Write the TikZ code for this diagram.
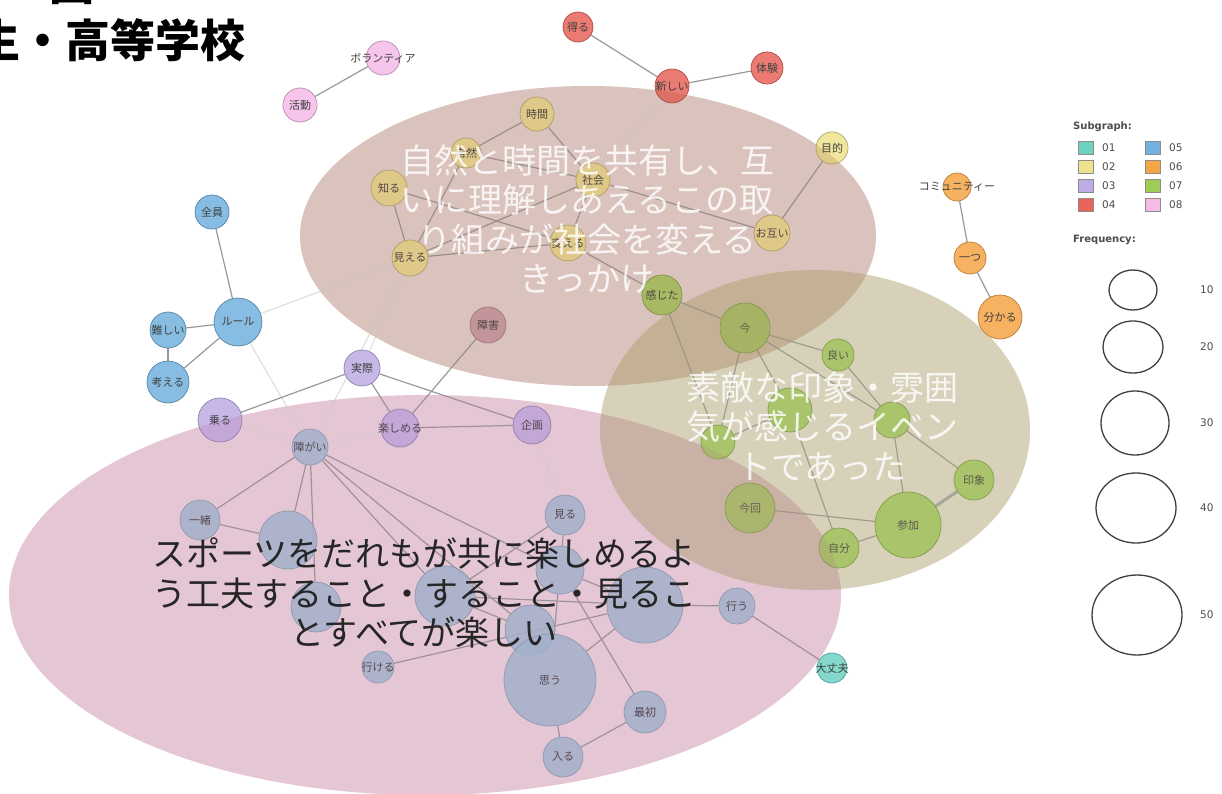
\documentclass[tikz,border=0pt]{standalone}
\usepackage{fontspec}
\newfontfamily\jp{Noto Sans CJK JP}
\newfontfamily\lgf{DejaVu Sans}
\usetikzlibrary{shapes.geometric}
\pgfdeclarelayer{paper}
\pgfdeclarelayer{ell}
\pgfdeclarelayer{edges}
\pgfdeclarelayer{veil}
\pgfdeclarelayer{fg}
\pgfsetlayers{paper,ell,edges,main,veil,fg}
\definecolor{c01}{RGB}{110,210,195}
\definecolor{c02}{RGB}{238,226,140}
\definecolor{c03}{RGB}{190,172,228}
\definecolor{c04}{RGB}{232,100,90}
\definecolor{c05}{RGB}{115,178,222}
\definecolor{c06}{RGB}{245,165,70}
\definecolor{c07}{RGB}{158,205,85}
\definecolor{c08}{RGB}{246,188,232}
\definecolor{cgr}{RGB}{158,190,212}
\definecolor{cmv}{RGB}{200,150,165}
\definecolor{brE}{RGB}{160,100,80}
\definecolor{pkE}{RGB}{190,110,150}
\definecolor{olE}{RGB}{175,165,115}
\newcommand\lbl[1]{\makebox[0pt]{#1}}
\begin{document}
\begin{tikzpicture}[x=1pt,y=-1pt,
  nd/.style={circle, inner sep=0pt, fill opacity=0.85, text opacity=1, line width=0.7pt,
    font=\jp\fontsize{11}{11}\selectfont, text=black!75},
  s01/.style={nd, fill=c01, draw=c01!75!black},
  s02/.style={nd, fill=c02, draw=c02!75!black},
  s03/.style={nd, fill=c03, draw=c03!75!black},
  s04/.style={nd, fill=c04, draw=c04!75!black},
  s05/.style={nd, fill=c05, draw=c05!75!black},
  s06/.style={nd, fill=c06, draw=c06!75!black},
  s07/.style={nd, fill=c07, draw=c07!75!black},
  s08/.style={nd, fill=c08, draw=c08!75!black},
  sgr/.style={nd, fill=cgr, draw=cgr!85!black},
  smv/.style={nd, fill=cmv, draw=cmv!80!black},
  lnk/.style={draw=black!40, line width=1.2pt},
  flnk/.style={draw=black!14, line width=1pt},
  thk/.style={draw=black!35, line width=3pt},
  etext/.style={align=center, inner sep=0pt, font=\jp\fontsize{34}{39.5}\selectfont},
  sq/.style={rectangle, minimum width=15pt, minimum height=13pt, inner sep=0pt, draw=black!45, line width=0.6pt},
  lgt/.style={anchor=west, inner sep=0pt, font=\lgf\fontsize{10.5}{10.5}\selectfont, text=black!70},
  fc/.style={ellipse, inner sep=0pt, draw=black!75, line width=1.3pt},
]
\useasboundingbox (0,0) rectangle (1222,794);
\begin{pgfonlayer}{paper}
\fill[white] (0,0) rectangle (1222,794);
\end{pgfonlayer}

% title fragments
\node[anchor=east, inner sep=0pt, font=\jp\bfseries\fontsize{45}{45}\selectfont] (title) at (246,40) {生・高等学校};
\node[inner sep=0pt, font=\jp\bfseries\fontsize{45}{45}\selectfont] (titletop) at (72,-16) {図};

% big ellipses (base and veil over the network)
\begin{pgfonlayer}{ell}
\fill[brE, fill opacity=0.24] (588,236) ellipse [x radius=288pt, y radius=150pt];
\fill[pkE, fill opacity=0.27] (425,595) ellipse [x radius=416pt, y radius=200pt];
\fill[olE, fill opacity=0.33] (815,430) ellipse [x radius=215pt, y radius=160pt];
\end{pgfonlayer}
\begin{pgfonlayer}{veil}
\fill[brE, fill opacity=0.18] (588,236) ellipse [x radius=288pt, y radius=150pt];
\fill[pkE, fill opacity=0.16] (425,595) ellipse [x radius=416pt, y radius=200pt];
\fill[olE, fill opacity=0.25] (815,430) ellipse [x radius=215pt, y radius=160pt];
\end{pgfonlayer}

% nodes: subgraph 08
\node[s08, minimum size=34pt] (vol) at (383,58) {\lbl{ボランティア}};
\node[s08, minimum size=34pt] (act) at (300,105) {\lbl{活動}};
% 04
\node[s04, minimum size=30pt] (eru) at (578,27) {\lbl{得る}};
\node[s04, minimum size=34pt] (atar) at (672,86) {\lbl{新しい}};
\node[s04, minimum size=32pt] (tai) at (767,68) {\lbl{体験}};
% 02
\node[s02, minimum size=34pt] (jikan) at (537,114) {\lbl{時間}};
\node[s02, minimum size=30pt] (shizen) at (466,153) {\lbl{自然}};
\node[s02, minimum size=34pt] (shakai) at (593,180) {\lbl{社会}};
\node[s02, minimum size=36pt] (shiru) at (389,188) {\lbl{知る}};
\node[s02, minimum size=36pt] (mieru) at (410,258) {\lbl{見える}};
\node[s02, minimum size=36pt] (kaeru) at (568,243) {\lbl{変える}};
\node[s02, minimum size=36pt] (otagai) at (772,233) {\lbl{お互い}};
\node[s02, minimum size=32pt] (mokuteki) at (832,148) {\lbl{目的}};
\node[smv, minimum size=36pt] (shogai) at (488,325) {\lbl{障害}};
% 03
\node[s03, minimum size=36pt] (jissai) at (362,368) {\lbl{実際}};
\node[s03, minimum size=44pt] (noru) at (220,420) {\lbl{乗る}};
\node[s03, minimum size=38pt] (tanoshimeru) at (400,428) {\lbl{楽しめる}};
\node[s03, minimum size=38pt] (kikaku) at (532,425) {\lbl{企画}};
% 05
\node[s05, minimum size=34pt] (zenin) at (212,212) {\lbl{全員}};
\node[s05, minimum size=48pt] (rule) at (238,322) {\lbl{ルール}};
\node[s05, minimum size=36pt] (muzu) at (168,330) {\lbl{難しい}};
\node[s05, minimum size=42pt] (kangaeru) at (168,382) {\lbl{考える}};
% gray
\node[sgr, minimum size=36pt] (hub) at (310,447) {\lbl{障がい}};
\node[sgr, minimum size=40pt] (issho) at (200,520) {\lbl{一緒}};
\node[sgr, minimum size=58pt] (gA) at (288,540) {};
\node[sgr, minimum size=50pt] (gB) at (316,607) {};
\node[sgr, minimum size=60pt] (gC) at (445,596) {};
\node[sgr, minimum size=40pt] (miru) at (565,515) {\lbl{見る}};
\node[sgr, minimum size=48pt] (gD) at (560,570) {};
\node[sgr, minimum size=76pt] (gE) at (645,605) {};
\node[sgr, minimum size=50pt] (gF) at (530,630) {};
\node[sgr, minimum size=92pt] (omou) at (550,680) {\lbl{思う}};
\node[sgr, minimum size=42pt] (saisho) at (645,712) {\lbl{最初}};
\node[sgr, minimum size=40pt] (hairu) at (563,757) {\lbl{入る}};
\node[sgr, minimum size=36pt] (okonau) at (737,606) {\lbl{行う}};
\node[sgr, minimum size=32pt] (ikeru) at (378,667) {\lbl{行ける}};
\node[s01, minimum size=30pt] (daijobu) at (832,668) {\lbl{大丈夫}};
% 07
\node[s07, minimum size=40pt] (kanjita) at (662,295) {\lbl{感じた}};
\node[s07, minimum size=50pt] (ima) at (745,328) {\lbl{今}};
\node[s07, minimum size=32pt] (yoi) at (838,355) {\lbl{良い}};
\node[s07, minimum size=44pt] (gG) at (790,410) {};
\node[s07, minimum size=34pt] (gH) at (718,442) {};
\node[s07, minimum size=36pt] (ibento) at (892,420) {};
\node[s07, minimum size=40pt] (insho) at (974,480) {\lbl{印象}};
\node[s07, minimum size=66pt] (sanka) at (908,525) {\lbl{参加}};
\node[s07, minimum size=40pt] (jibun) at (839,548) {\lbl{自分}};
\node[s07, minimum size=50pt] (konkai) at (750,508) {\lbl{今回}};
% 06
\node[s06, minimum size=28pt] (comm) at (957,187) {\lbl{コミュニティー}};
\node[s06, minimum size=32pt] (hitotsu) at (970,258) {\lbl{一つ}};
\node[s06, minimum size=44pt] (wakaru) at (1000,317) {\lbl{分かる}};

% edges
\begin{pgfonlayer}{edges}
\draw[lnk] (vol) -- (act);
\draw[lnk] (eru) -- (atar);
\draw[lnk] (atar) -- (tai);
\draw[flnk] (atar) -- (shakai);
\draw[lnk] (jikan) -- (shizen);
\draw[lnk] (jikan) -- (shakai);
\draw[lnk] (shizen) -- (shakai);
\draw[lnk] (shizen) -- (mieru);
\draw[lnk] (shiru) -- (mieru);
\draw[lnk] (shiru) -- (kaeru);
\draw[lnk] (mieru) -- (kaeru);
\draw[lnk] (mieru) -- (shakai);
\draw[lnk] (shakai) -- (kaeru);
\draw[lnk] (shakai) -- (otagai);
\draw[lnk] (otagai) -- (mokuteki);
\draw[lnk] (kaeru) -- (kanjita);
\draw[flnk] (mieru) -- (rule);
\draw[flnk] (mieru) -- (jissai);
\draw[flnk] (mieru) -- (hub);
\draw[lnk] (shogai) -- (tanoshimeru);
\draw[lnk] (zenin) -- (rule);
\draw[lnk] (muzu) -- (rule);
\draw[lnk] (muzu) -- (kangaeru);
\draw[lnk] (rule) -- (kangaeru);
\draw[flnk] (rule) -- (hub);
\draw[lnk] (jissai) -- (noru);
\draw[lnk] (jissai) -- (tanoshimeru);
\draw[lnk] (jissai) -- (kikaku);
\draw[lnk] (tanoshimeru) -- (kikaku);
\draw[flnk] (hub) -- (noru);
\draw[flnk] (hub) -- (tanoshimeru);
\draw[lnk] (hub) -- (issho);
\draw[lnk] (hub) -- (gA);
\draw[lnk] (hub) -- (gB);
\draw[lnk] (hub) -- (gC);
\draw[lnk] (hub) -- (gD);
\draw[lnk] (hub) -- (gF);
\draw[lnk] (issho) -- (gA);
\draw[lnk] (miru) -- (gD);
\draw[lnk] (miru) -- (gC);
\draw[lnk] (gD) -- (gE);
\draw[lnk] (gC) -- (gE);
\draw[lnk] (gC) -- (gF);
\draw[lnk] (gE) -- (okonau);
\draw[lnk] (okonau) -- (daijobu);
\draw[lnk] (gE) -- (omou);
\draw[lnk] (gD) -- (saisho);
\draw[lnk] (omou) -- (hairu);
\draw[lnk] (hairu) -- (saisho);
\draw[lnk] (ikeru) -- (gE);
\draw[lnk] (gD) -- (omou);
\draw[flnk] (kikaku) -- (miru);
\draw[lnk] (kanjita) -- (ima);
\draw[lnk] (kanjita) -- (gH);
\draw[lnk] (ima) -- (yoi);
\draw[lnk] (ima) -- (gG);
\draw[lnk] (ima) -- (gH);
\draw[lnk] (ima) -- (ibento);
\draw[lnk] (yoi) -- (ibento);
\draw[lnk] (ibento) -- (insho);
\draw[lnk] (ibento) -- (sanka);
\draw[thk] (insho) -- (sanka);
\draw[lnk] (sanka) -- (jibun);
\draw[lnk] (konkai) -- (sanka);
\draw[lnk] (gG) -- (jibun);
\draw[lnk] (gG) -- (gH);
\draw[lnk] (comm) -- (hitotsu);
\draw[lnk] (hitotsu) -- (wakaru);
\end{pgfonlayer}

% ellipse texts
\begin{pgfonlayer}{fg}
\node[etext, text=white, text opacity=0.82] (t1) at (587,219) {自然と時間を共有し、互\\いに理解しあえるこの取\\り組みが社会を変える\\きっかけ};
\node[etext, text=white, text opacity=0.82] (t2) at (822,426) {素敵な印象・雰囲\\気が感じるイベン\\トであった};
\node[etext, text=black!85] (t3) at (424,593) {スポーツをだれもが共に楽しめるよ\\う工夫すること・すること・見るこ\\とすべてが楽しい};
\end{pgfonlayer}

% legend
\node[lgt, font=\lgf\bfseries\fontsize{10}{10}\selectfont] (lsub) at (1073,127) {Subgraph:};
\node[sq, fill=c01] (q01) at (1086,148) {};
\node[sq, fill=c02] (q02) at (1086,167) {};
\node[sq, fill=c03] (q03) at (1086,186) {};
\node[sq, fill=c04] (q04) at (1086,205) {};
\node[sq, fill=c05] (q05) at (1153,148) {};
\node[sq, fill=c06] (q06) at (1153,167) {};
\node[sq, fill=c07] (q07) at (1153,186) {};
\node[sq, fill=c08] (q08) at (1153,205) {};
\node[lgt] (n01) at (1102,148) {01};
\node[lgt] (n02) at (1102,167) {02};
\node[lgt] (n03) at (1102,186) {03};
\node[lgt] (n04) at (1102,205) {04};
\node[lgt] (n05) at (1169,148) {05};
\node[lgt] (n06) at (1169,167) {06};
\node[lgt] (n07) at (1169,186) {07};
\node[lgt] (n08) at (1169,205) {08};
\node[lgt, font=\lgf\bfseries\fontsize{10}{10}\selectfont] (lfreq) at (1073,240) {Frequency:};
\node[fc, minimum width=48pt, minimum height=40pt] (f10) at (1133,290) {};
\node[fc, minimum width=60pt, minimum height=52pt] (f20) at (1133,347) {};
\node[fc, minimum width=68pt, minimum height=64pt] (f30) at (1135,423) {};
\node[fc, minimum width=80pt, minimum height=70pt] (f40) at (1136,508) {};
\node[fc, minimum width=90pt, minimum height=80pt] (f50) at (1137,615) {};
\node[lgt] (v10) at (1200,290) {10};
\node[lgt] (v20) at (1200,347) {20};
\node[lgt] (v30) at (1200,423) {30};
\node[lgt] (v40) at (1200,508) {40};
\node[lgt] (v50) at (1200,615) {50};
\end{tikzpicture}
\end{document}
